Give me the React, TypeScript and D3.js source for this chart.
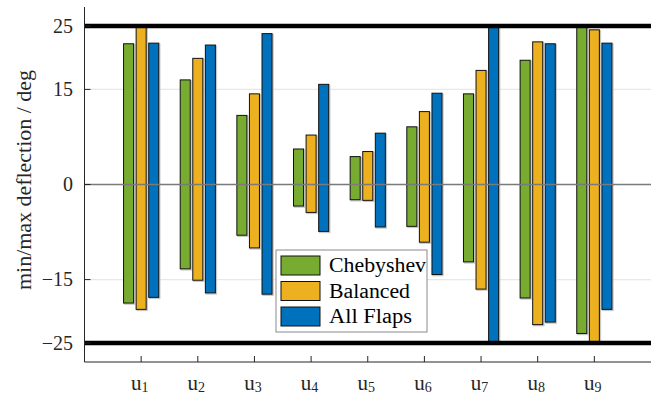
import React from 'react';
import * as d3 from 'd3';

// controller inputs u1..u9
const categories = ['1', '2', '3', '4', '5', '6', '7', '8', '9'];
const seriesNames = ['Chebyshev', 'Balanced', 'All Flaps'];
const seriesColors = ['#77AC30', '#EDB120', '#0072BD'];

// max / min deflection per input (deg)
const chebyMax = [22.2, 16.5, 10.9, 5.6, 4.4, 9.1, 14.3, 19.6, 25];
const chebyMin = [-18.7, -13.3, -8.0, -3.4, -2.4, -6.6, -12.2, -17.9, -23.5];
const balancedMax = [25, 19.9, 14.3, 7.8, 5.2, 11.5, 18.0, 22.5, 24.4];
const balancedMin = [-19.7, -15.1, -10.0, -4.4, -2.5, -9.1, -16.5, -22.1, -25];
const allFlapsMax = [22.3, 22.0, 23.8, 15.8, 8.1, 14.4, 25, 22.2, 22.3];
const allFlapsMin = [-17.8, -17.1, -17.3, -7.4, -6.7, -14.2, -25, -21.7, -19.7];

const yTicks = [-25, -15, 0, 15, 25];
const limits = [-25, 25];

const W = 663;
const H = 394;
const txt = { fontFamily: "'Liberation Serif'" };

export default function App() {
  const x = d3.scaleLinear().domain([0, 10]).range([84.5, 651]);
  const y = d3.scaleLinear().domain([-28, 28]).range([362, 7]);

  const series = [
    { max: chebyMax, min: chebyMin },
    { max: balancedMax, min: balancedMin },
    { max: allFlapsMax, min: allFlapsMin },
  ];
  const offsets = [-0.222, 0, 0.222];
  const barW = x(0.177) - x(0);
  const legendLen = [97, 81, 83];

  return (
    <svg width={W} height={H} style={{ position: 'absolute', left: 0, top: 0, background: '#fff' }}>
      {/* grid lines */}
      {yTicks.filter(t => t !== 0).map(t => (
        <line key={'g' + t} x1={x(0)} x2={x(10)} y1={y(t)} y2={y(t)} stroke="#e8e8e8" strokeWidth={1.2} />
      ))}

      {/* bars */}
      {series.map((s, si) => categories.map((c, i) => {
        const cx = x(i + 1 + offsets[si]);
        const top = y(Math.min(s.max[i], 25));
        const bot = y(Math.max(s.min[i], -25));
        return (
          <g key={si + '-' + c}>
            <rect x={cx - barW / 2 + 1} y={top + 1} width={barW} height={bot - top}
              fill="none" stroke="#c8c8c8" strokeWidth={1.5} />
            <rect x={cx - barW / 2} y={top} width={barW} height={bot - top}
              fill={seriesColors[si]} stroke="#111" strokeWidth={1} />
          </g>
        );
      }))}

      {/* zero line */}
      <line x1={x(0)} x2={x(10)} y1={y(0)} y2={y(0)} stroke="#7a7a7a" strokeWidth={1.3} />

      {/* limit lines */}
      {limits.map(l => (
        <line key={'l' + l} x1={x(0)} x2={x(10)} y1={y(l)} y2={y(l)} stroke="#000" strokeWidth={4.5} />
      ))}

      {/* axes */}
      <line x1={x(0)} x2={x(0)} y1={y(28)} y2={y(-28)} stroke="#262626" strokeWidth={1} />
      <line x1={x(0)} x2={x(10)} y1={y(-28)} y2={y(-28)} stroke="#262626" strokeWidth={1} />
      {yTicks.map(t => (
        <g key={'yt' + t}>
          <line x1={x(0)} x2={x(0) + 6} y1={y(t)} y2={y(t)} stroke="#262626" strokeWidth={1} />
          <text x={73} y={y(t)} dy="0.34em" textAnchor="end" fontSize={20} fill="#262626" style={txt}>
            {t < 0 ? '\u2212' + Math.abs(t) : t}
          </text>
        </g>
      ))}
      {categories.map((c, i) => (
        <g key={'xt' + c}>
          <line x1={x(i + 1)} x2={x(i + 1)} y1={y(-28)} y2={y(-28) - 6} stroke="#262626" strokeWidth={1} />
          <text x={x(i + 1) - 1.5} y={390} textAnchor="middle" fontSize={21} fill="#262626" style={txt}>
            u<tspan fontSize={14} dy={2} style={txt}>{c}</tspan>
          </text>
        </g>
      ))}

      <text transform={`translate(31, 180) rotate(-90)`} textAnchor="middle" fontSize={20} fill="#262626"
        textLength={220} lengthAdjust="spacingAndGlyphs" style={txt}>
        min/max deflection / deg
      </text>

      {/* legend */}
      <g transform="translate(276, 250)">
        <rect x={0} y={0} width={151} height={82} fill="#fff" stroke="#8a8a8a" strokeWidth={1} />
        {seriesNames.map((n, i) => (
          <g key={n} transform={`translate(5, ${6 + i * 25.5})`}>
            <rect x={0} y={0} width={39} height={19} fill={seriesColors[i]} stroke="#111" strokeWidth={1} />
            <text x={48} y={16} fontSize={20} fill="#000" textLength={legendLen[i]}
              lengthAdjust="spacingAndGlyphs" style={txt}>{n}</text>
          </g>
        ))}
      </g>
    </svg>
  );
}
